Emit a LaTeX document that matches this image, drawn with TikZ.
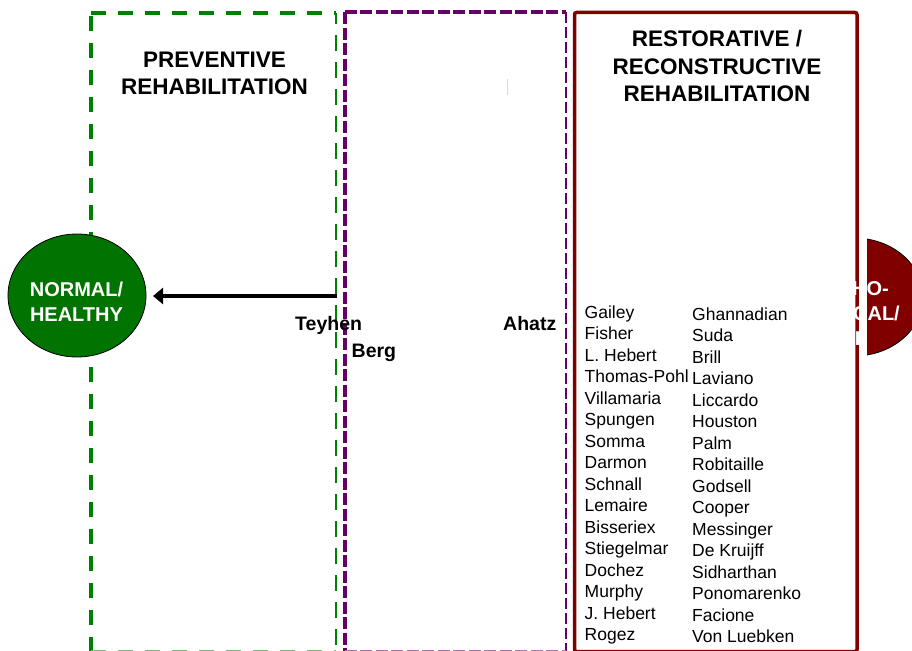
\documentclass[tikz,border=0pt]{standalone}
\usepackage{fontspec}
\setmainfont{Liberation Sans}
\usetikzlibrary{arrows.meta,shapes.geometric}
\definecolor{gboxc}{RGB}{0,128,0}
\definecolor{gfill}{RGB}{0,115,0}
\definecolor{pboxc}{RGB}{102,0,102}
\definecolor{rboxc}{RGB}{128,0,0}
\begin{document}
\begin{tikzpicture}[x=1pt,y=-1pt,
  gthick/.style={draw=gboxc, line width=4pt, dash pattern=on 15pt off 12pt},
  gthin/.style={draw=gboxc, line width=2pt, dash pattern=on 16pt off 11pt},
  pthick/.style={draw=pboxc, line width=4pt, dash pattern=on 12pt off 3.5pt},
  pthin/.style={draw=pboxc, line width=2pt, dash pattern=on 11pt off 4pt},
  redbox/.style={draw=rboxc, line width=3.5pt, fill=white, rounded corners=2pt},
  titletext/.style={font=\fontsize{22.5}{27}\selectfont\bfseries, inner sep=0, anchor=base},
  authortext/.style={font=\fontsize{19.5}{23}\selectfont\bfseries, inner sep=0, anchor=base west},
  nametext/.style={font=\fontsize{17.5}{21}\selectfont, inner sep=0, anchor=base west},
  statetext/.style={font=\fontsize{20}{25}\selectfont\bfseries, text=white, inner sep=0, anchor=base},
  stateshape/.style={ellipse, draw=black, line width=0.8pt, inner sep=0},
  arrowline/.style={draw=black, line width=4.5pt, -{Triangle[length=10pt,width=16pt]}}
]
\useasboundingbox (0,0) rectangle (912,650);
\clip (0,0) rectangle (912,650);

% green dashed box (preventive)
\draw[gthick] (91,16) -- (91,652);
\draw[gthick] (91,13.3) -- (336,13.3);
\draw[gthin, dash phase=5pt] (335.7,13) -- (335.7,652);
\draw[gthick, draw=gboxc!55] (91,651.5) -- (336,651.5);

% purple dashed box
\draw[pthick] (344.7,12.5) -- (344.7,652);
\draw[pthick] (344.7,12.5) -- (566,12.5);
\draw[pthin] (566,12.5) -- (566,652);
\draw[pthick, draw=pboxc!55] (344.7,651.5) -- (566,651.5);

% stray light mark
\coordinate (m1) at (507.5,79);
\coordinate (m2) at (507.5,95);
\draw[black!15, line width=0.8pt] (m1) -- (m2);

% right state ellipse (partly hidden)
\node[stateshape, fill=rboxc, minimum width=138pt, minimum height=118pt] (patho) at (854,297) {};
\fill[white] (857,232) rectangle (866.5,362);

% restorative box
\draw[redbox] (574.5,12.5) rectangle (857,651.5);

% left state ellipse
\node[stateshape, fill=gfill, minimum width=138pt, minimum height=123pt] (normal) at (77,295.5) {};
\node[statetext] (n1) at (76.5,296) {NORMAL/};
\node[statetext] (n2) at (76.5,321) {HEALTHY};

% arrow
\coordinate (astart) at (337,296);
\coordinate (aend) at (153,296);
\draw[arrowline] (astart) -- (aend);

% right ellipse text
\node[statetext] (p1) at (852,295) {PATHO-};
\node[statetext] (p2) at (852,320) {LOGICAL/};
\node[statetext] (p3) at (852,345) {ILL};

% titles
\node[titletext] (t1) at (214.5,68) {PREVENTIVE};
\node[titletext] (t2) at (214.5,95) {REHABILITATION};
\node[titletext] (r1) at (717,46.7) {RESTORATIVE /};
\node[titletext] (r2) at (717,74.2) {RECONSTRUCTIVE};
\node[titletext] (r3) at (717,101.7) {REHABILITATION};

% authors
\node[authortext] (teyhen) at (295,330) {Teyhen};
\node[authortext] (berg) at (351.5,357) {Berg};
\node[authortext] (ahatz) at (503,330) {Ahatz};

% name columns
\foreach \nm [count=\i from 0] in {Gailey,Fisher,L. Hebert,Thomas-Pohl,Villamaria,Spungen,Somma,Darmon,Schnall,Lemaire,Bisseriex,Stiegelmar,Dochez,Murphy,J. Hebert,Rogez}
  \node[nametext] (left\i) at (584.5,318+21.5*\i) {\nm};
\foreach \nm [count=\i from 0] in {Ghannadian,Suda,Brill,Laviano,Liccardo,Houston,Palm,Robitaille,Godsell,Cooper,Messinger,De Kruijff,Sidharthan,Ponomarenko,Facione,Von Luebken}
  \node[nametext] (right\i) at (692,320+21.5*\i) {\nm};
\end{tikzpicture}
\end{document}
